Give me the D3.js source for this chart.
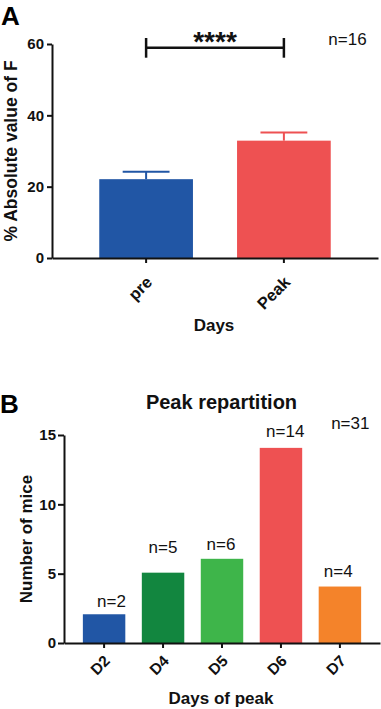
<!DOCTYPE html>
<html>
<head>
<meta charset="utf-8">
<script src="https://cdn.jsdelivr.net/npm/d3@7"></script>
<style>
  html, body { margin: 0; padding: 0; background: #fff; }
  svg { display: block; font-family: "Liberation Sans", Arial, sans-serif; }
</style>
</head>
<body>
<svg id="chart" width="381" height="709"></svg>
<script>
// ---- Panel A data ----
const catsA = ["pre", "Peak"];
const valuesA = [22.1, 32.9];
const semA = [2.1, 2.3];
const colorsA = ["#2156A5", "#EE5152"];
const ticksA = [0, 20, 40, 60];
const nA = "n=16";
const sigLabel = "****";

// ---- Panel B data ----
const catsB = ["D2", "D4", "D5", "D6", "D7"];
const valuesB = [2, 5, 6, 14, 4];
const labelsB = ["n=2", "n=5", "n=6", "n=14", "n=4"];
const colorsB = ["#2156A5", "#12863F", "#3EB54A", "#EE5152", "#F4832A"];
const ticksB = [0, 5, 10, 15];
const nB = "n=31";

// layout offsets for the n= annotations (pixels: dx, dy from bar top)
const annotOffsets = [[7.4, -8.3], [0, -20.6], [-1, -9.8], [4.3, -12.3], [-1.7, -10.5]];

const svg = d3.select("#chart");

// ================= Panel A =================
const yA = d3.scaleLinear().domain([0, 60]).range([258, 44]);
const xA = d3.scaleBand().domain(catsA).range([52, 378]).paddingInner(0.32).paddingOuter(0.343);

const gA = svg.append("g");

gA.selectAll("rect.bar").data(catsA).join("rect")
  .attr("x", d => xA(d))
  .attr("y", (d, i) => yA(valuesA[i]))
  .attr("width", xA.bandwidth())
  .attr("height", (d, i) => yA(0) - yA(valuesA[i]))
  .attr("fill", (d, i) => colorsA[i]);

catsA.forEach((c, i) => {
  const cx = xA(c) + xA.bandwidth() / 2;
  const capW = xA.bandwidth() / 2;
  gA.append("line")
    .attr("x1", cx).attr("x2", cx)
    .attr("y1", yA(valuesA[i])).attr("y2", yA(valuesA[i] + semA[i]))
    .attr("stroke", colorsA[i]).attr("stroke-width", 2);
  gA.append("line")
    .attr("x1", cx - capW / 2).attr("x2", cx + capW / 2)
    .attr("y1", yA(valuesA[i] + semA[i])).attr("y2", yA(valuesA[i] + semA[i]))
    .attr("stroke", colorsA[i]).attr("stroke-width", 2);
});

const yAxisA = gA.append("g").attr("transform", "translate(52,0)")
  .call(d3.axisLeft(yA).tickValues(ticksA).tickSize(5).tickSizeOuter(0).tickPadding(3));
yAxisA.select(".domain").attr("stroke", "#111").attr("stroke-width", 2);
yAxisA.selectAll(".tick line").attr("stroke", "#111").attr("stroke-width", 2);
yAxisA.selectAll(".tick text").attr("font-size", 15).attr("font-weight", "bold")
  .attr("fill", "#111").attr("font-family", "Liberation Sans, Arial, sans-serif");

const xAxisA = gA.append("g").attr("transform", `translate(0,${yA(0)})`)
  .call(d3.axisBottom(xA).tickSize(5).tickSizeOuter(0).tickFormat(""));
xAxisA.select(".domain").attr("stroke", "#111").attr("stroke-width", 2);
xAxisA.selectAll(".tick line").attr("stroke", "#111").attr("stroke-width", 2);
gA.selectAll("text.xlabA").data(catsA).join("text")
  .attr("transform", d => `translate(${xA(d) + xA.bandwidth() / 2 + 3},${yA(0) + 21}) rotate(-45)`)
  .attr("text-anchor", "end")
  .attr("dominant-baseline", "central")
  .attr("font-size", 16.5).attr("font-weight", "bold").attr("fill", "#111")
  .text(d => d);

gA.append("text")
  .attr("transform", `translate(16.5,${(yA(0) + yA(60)) / 2}) rotate(-90)`)
  .attr("text-anchor", "middle")
  .attr("font-size", 17.5).attr("font-weight", "bold").attr("fill", "#111")
  .text("% Absolute value of F");
gA.append("text")
  .attr("x", 214).attr("y", 330.5)
  .attr("text-anchor", "middle")
  .attr("font-size", 17).attr("font-weight", "bold").attr("fill", "#111")
  .text("Days");

const c0 = xA(catsA[0]) + xA.bandwidth() / 2;
const c1 = xA(catsA[1]) + xA.bandwidth() / 2;
const bracket = gA.append("g").attr("stroke", "#111").attr("stroke-width", 2.5);
bracket.append("line").attr("x1", c0).attr("x2", c1).attr("y1", 47.7).attr("y2", 47.7);
bracket.append("line").attr("x1", c0).attr("x2", c0).attr("y1", 38).attr("y2", 57.7);
bracket.append("line").attr("x1", c1).attr("x2", c1).attr("y1", 38).attr("y2", 57.7);
gA.append("text")
  .attr("x", (c0 + c1) / 2).attr("y", 51)
  .attr("text-anchor", "middle")
  .attr("font-size", 28).attr("font-weight", "bold").attr("fill", "#111")
  .text(sigLabel);

gA.append("text")
  .attr("x", 347.5).attr("y", 45)
  .attr("text-anchor", "middle")
  .attr("font-size", 17).attr("fill", "#111")
  .text(nA);

svg.append("text").attr("x", 1).attr("y", 25)
  .attr("font-size", 26).attr("font-weight", "bold").attr("fill", "#000").text("A");

// ================= Panel B =================
const yB = d3.scaleLinear().domain([0, 15]).range([643, 435]);
const xB = d3.scaleBand().domain(catsB).range([64, 380]).paddingInner(0.28).paddingOuter(0.32);

const gB = svg.append("g");

gB.selectAll("rect.bar").data(catsB).join("rect")
  .attr("x", d => xB(d))
  .attr("y", (d, i) => yB(valuesB[i]) - 1)
  .attr("width", xB.bandwidth())
  .attr("height", (d, i) => yB(0) - yB(valuesB[i]) + 1)
  .attr("fill", (d, i) => colorsB[i]);

const yAxisB = gB.append("g").attr("transform", "translate(64,0)")
  .call(d3.axisLeft(yB).tickValues(ticksB).tickSize(6).tickSizeOuter(0).tickPadding(2));
yAxisB.select(".domain").attr("stroke", "#111").attr("stroke-width", 2);
yAxisB.selectAll(".tick line").attr("stroke", "#111").attr("stroke-width", 2);
yAxisB.selectAll(".tick text").attr("font-size", 15).attr("font-weight", "bold")
  .attr("fill", "#111").attr("font-family", "Liberation Sans, Arial, sans-serif");

const xAxisB = gB.append("g").attr("transform", `translate(0,${yB(0)})`)
  .call(d3.axisBottom(xB).tickSize(5).tickSizeOuter(0).tickFormat(""));
xAxisB.select(".domain").attr("stroke", "#111").attr("stroke-width", 2);
xAxisB.selectAll(".tick line").attr("stroke", "#111").attr("stroke-width", 2);
gB.selectAll("text.xlabB").data(catsB).join("text")
  .attr("transform", d => `translate(${xB(d) + xB.bandwidth() / 2 + 3},${yB(0) + 15}) rotate(-45)`)
  .attr("text-anchor", "end")
  .attr("dominant-baseline", "central")
  .attr("font-size", 15.5).attr("font-weight", "bold").attr("fill", "#111")
  .text(d => d);

gB.selectAll("text.nlab").data(labelsB).join("text")
  .attr("x", (d, i) => xB(catsB[i]) + xB.bandwidth() / 2 + annotOffsets[i][0])
  .attr("y", (d, i) => yB(valuesB[i]) + annotOffsets[i][1])
  .attr("text-anchor", "middle")
  .attr("font-size", 17).attr("fill", "#111")
  .text(d => d);
gB.append("text")
  .attr("x", 350.3).attr("y", yB(15) - 6.5)
  .attr("text-anchor", "middle")
  .attr("font-size", 17).attr("fill", "#111")
  .text(nB);

gB.append("text")
  .attr("x", 221.5).attr("y", 409)
  .attr("text-anchor", "middle")
  .attr("font-size", 20).attr("font-weight", "bold").attr("fill", "#111")
  .text("Peak repartition");
gB.append("text")
  .attr("transform", `translate(31.5,${(yB(0) + yB(15)) / 2}) rotate(-90)`)
  .attr("text-anchor", "middle")
  .attr("font-size", 17).attr("font-weight", "bold").attr("fill", "#111")
  .text("Number of mice");
gB.append("text")
  .attr("x", 221).attr("y", 704)
  .attr("text-anchor", "middle")
  .attr("font-size", 17).attr("font-weight", "bold").attr("fill", "#111")
  .text("Days of peak");

svg.append("text").attr("x", 0).attr("y", 412.7)
  .attr("font-size", 26).attr("font-weight", "bold").attr("fill", "#000").text("B");
</script>
</body>
</html>
